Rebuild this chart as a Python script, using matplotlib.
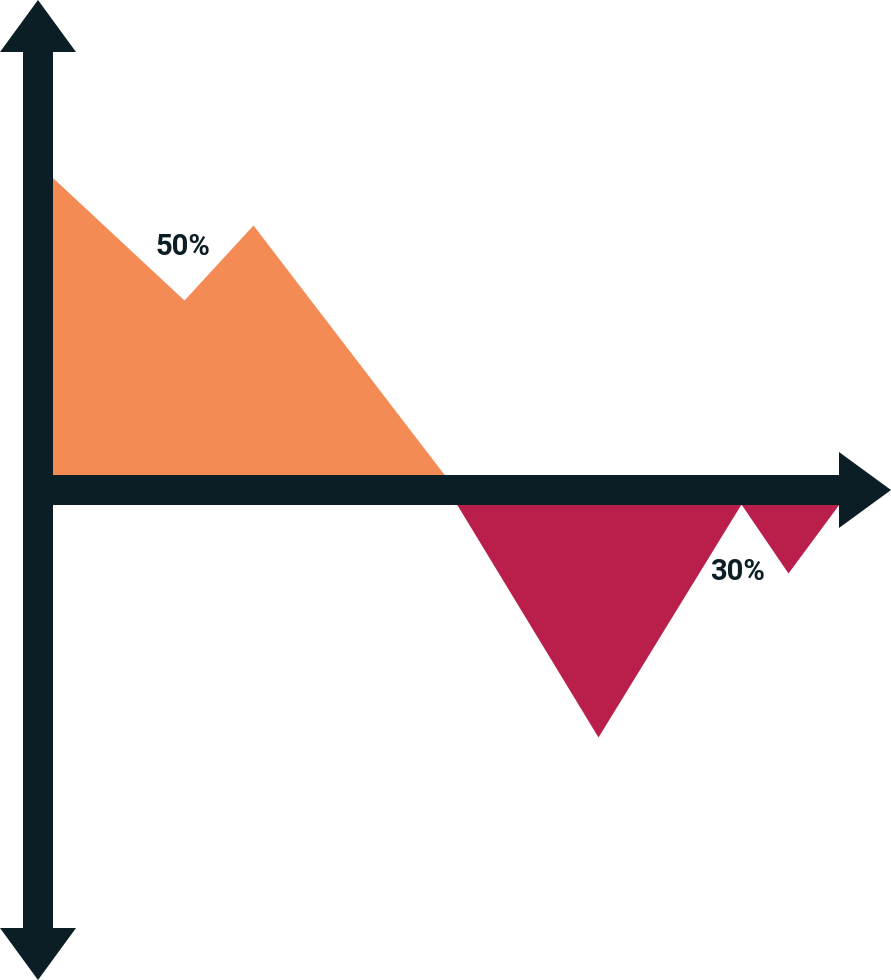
import matplotlib
matplotlib.use("Agg")
import matplotlib.pyplot as plt
import numpy as np
from matplotlib.patches import FancyArrow

# series (origin at the axes crossing, 1 unit = 1 px)
up_x = [0, 146, 215, 418]
up_y = [326, 190, 265, 0]
down_x = [410, 560, 703, 750, 801]
down_y = [0, -247, -14, -83, -14]

labels = ["50%", "30%"]
label_x = [145, 700]
label_y = [243, -82]

COLORS = {"up": "#F48B54", "down": "#BA1F4B", "axis": "#0B1E25"}


def main():
    fig = plt.figure(figsize=(8.91, 9.8), dpi=100)
    ax = fig.add_axes([0, 0, 1, 1])
    ax.set_xlim(-38, 853)
    ax.set_ylim(-490, 490)
    ax.axis("off")

    ax.fill_between(up_x, 0, up_y, color=COLORS["up"], linewidth=0, zorder=1)
    ax.fill_between(down_x, 0, down_y, color=COLORS["down"], linewidth=0, zorder=1)

    # ── axes as thick arrows ──
    kw = dict(width=30, head_width=76, head_length=52,
              length_includes_head=True, color=COLORS["axis"],
              linewidth=0, zorder=3)
    ax.add_patch(FancyArrow(0, 0, 0, 490, **kw))
    ax.add_patch(FancyArrow(0, 0, 0, -490, **kw))
    ax.add_patch(FancyArrow(-15, 0, 868, 0, **kw))

    for t, lx, ly in zip(labels, label_x, label_y):
        ax.text(lx, ly, t, family=["Roboto", "DejaVu Sans"], fontweight="bold",
                fontsize=21, color=COLORS["axis"], ha="center", va="center",
                zorder=4)

    fig.savefig("out.png", dpi=100)
    plt.close(fig)


if __name__ == "__main__":
    main()
